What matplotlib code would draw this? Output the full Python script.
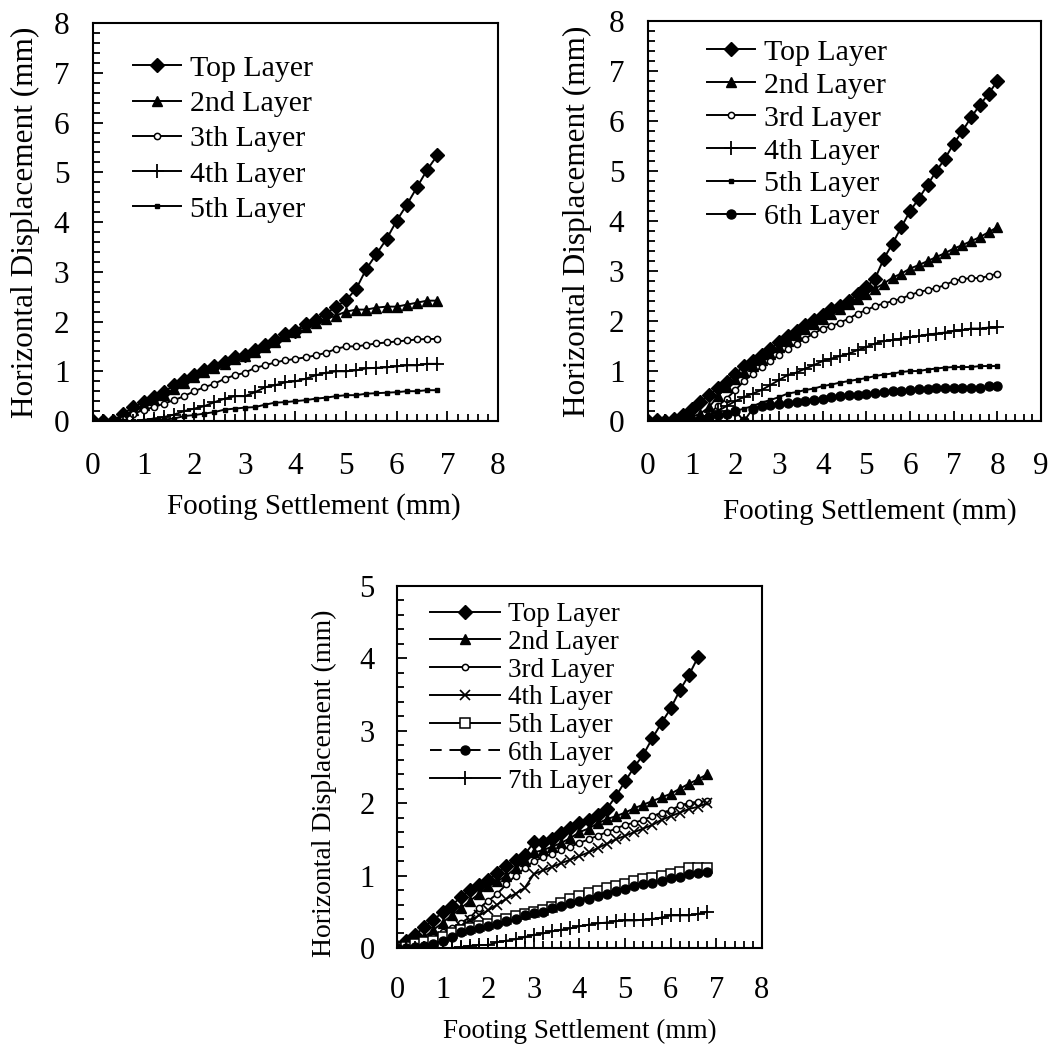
import numpy as np
import matplotlib
matplotlib.use("Agg")
import matplotlib.pyplot as plt
from matplotlib.ticker import MultipleLocator

plt.rcParams['font.family'] = ['Liberation Serif', 'DejaVu Serif']

# ---- panel A (top left): settlement 0..6.8 step 0.2
xa = np.round(np.arange(0, 6.81, 0.2), 1)
a_top = [0, 0, 0, 0.15, 0.28, 0.38, 0.48, 0.58, 0.72, 0.82, 0.92, 1.02, 1.1, 1.19, 1.29,
         1.32, 1.42, 1.52, 1.62, 1.75, 1.82, 1.96, 2.04, 2.16, 2.3, 2.43, 2.66, 3.06, 3.36,
         3.66, 4.03, 4.35, 4.7, 5.05, 5.34]
a_2nd = [0, 0, 0, 0.1, 0.22, 0.32, 0.42, 0.52, 0.65, 0.76, 0.88, 0.98, 1.06, 1.15, 1.25,
         1.3, 1.38, 1.48, 1.58, 1.7, 1.8, 1.9, 1.98, 2.05, 2.12, 2.2, 2.24, 2.24, 2.28, 2.3,
         2.3, 2.34, 2.38, 2.42, 2.42]
a_3rd = [0, 0, 0, 0.05, 0.15, 0.22, 0.28, 0.35, 0.42, 0.5, 0.6, 0.68, 0.75, 0.85, 0.92,
         0.97, 1.07, 1.12, 1.18, 1.22, 1.25, 1.28, 1.32, 1.37, 1.45, 1.5, 1.5, 1.53, 1.56,
         1.58, 1.6, 1.62, 1.64, 1.65, 1.65]
a_4th = [0, 0, 0, 0, 0, 0.02, 0.05, 0.08, 0.13, 0.2, 0.25, 0.3, 0.38, 0.45, 0.5, 0.5,
         0.58, 0.68, 0.72, 0.78, 0.8, 0.85, 0.92, 0.97, 1.0, 1.0, 1.02, 1.06, 1.07, 1.08,
         1.1, 1.12, 1.12, 1.15, 1.15]
a_5th = [0, 0, 0, 0, 0, 0, 0.02, 0.03, 0.05, 0.1, 0.12, 0.15, 0.18, 0.23, 0.25, 0.27,
         0.28, 0.33, 0.37, 0.38, 0.4, 0.42, 0.45, 0.47, 0.5, 0.52, 0.52, 0.55, 0.56, 0.57,
         0.58, 0.6, 0.6, 0.62, 0.62]

# ---- panel B (top right): settlement 0..8 step 0.2
xb = np.round(np.arange(0, 8.01, 0.2), 1)
b_top = [0, 0.03, 0, 0.05, 0.12, 0.25, 0.38, 0.52, 0.66, 0.78, 0.95, 1.1, 1.2, 1.33, 1.45,
         1.58, 1.7, 1.8, 1.93, 2.02, 2.12, 2.25, 2.3, 2.4, 2.55, 2.68, 2.85, 3.25, 3.55,
         3.88, 4.2, 4.45, 4.72, 5.0, 5.25, 5.55, 5.8, 6.08, 6.32, 6.55, 6.8]
b_2nd = [0, 0, 0, 0, 0.03, 0.08, 0.15, 0.28, 0.5, 0.68, 0.85, 0.98, 1.1, 1.22, 1.35, 1.48,
         1.6, 1.72, 1.85, 1.95, 2.05, 2.15, 2.25, 2.35, 2.45, 2.55, 2.65, 2.75, 2.87, 2.95,
         3.05, 3.12, 3.2, 3.28, 3.36, 3.45, 3.52, 3.6, 3.68, 3.78, 3.88]
b_3rd = [0, 0, 0, 0, 0, 0, 0.05, 0.15, 0.3, 0.45, 0.62, 0.8, 0.95, 1.08, 1.2, 1.32, 1.45,
         1.55, 1.65, 1.75, 1.85, 1.9, 1.97, 2.05, 2.15, 2.22, 2.3, 2.35, 2.4, 2.45, 2.52,
         2.58, 2.62, 2.66, 2.72, 2.8, 2.84, 2.86, 2.86, 2.9, 2.95]
b_4th = [0, 0, 0, 0, 0, 0, 0, 0.1, 0.2, 0.3, 0.4, 0.48, 0.55, 0.62, 0.72, 0.82, 0.92, 0.97,
         1.05, 1.12, 1.2, 1.25, 1.3, 1.35, 1.42, 1.48, 1.55, 1.6, 1.62, 1.65, 1.68, 1.7,
         1.73, 1.75, 1.77, 1.8, 1.82, 1.85, 1.85, 1.87, 1.88]
b_5th = [0, 0, 0, 0, 0, 0, 0.02, 0.05, 0.1, 0.15, 0.2, 0.25, 0.3, 0.37, 0.42, 0.48, 0.55,
         0.58, 0.62, 0.65, 0.7, 0.73, 0.77, 0.8, 0.83, 0.86, 0.9, 0.93, 0.95, 0.98, 1.0,
         1.0, 1.03, 1.05, 1.07, 1.08, 1.08, 1.08, 1.1, 1.1, 1.1]
b_6th = [0, 0, 0, 0, 0, 0, 0.03, 0.08, 0.12, 0.15, 0.2, 0.0, 0.25, 0.3, 0.32, 0.35, 0.37,
         0.38, 0.4, 0.42, 0.45, 0.48, 0.5, 0.52, 0.53, 0.55, 0.56, 0.58, 0.6, 0.6, 0.62,
         0.64, 0.64, 0.66, 0.67, 0.67, 0.67, 0.67, 0.67, 0.7, 0.7]

# ---- panel C (bottom): settlement 0..6.8 step 0.2 (top layer stops at 6.6)
xc = np.round(np.arange(0, 6.81, 0.2), 1)
c_top = [0.02, 0.09, 0.18, 0.29, 0.39, 0.49, 0.58, 0.71, 0.8, 0.87, 0.94, 1.03, 1.13,
         1.22, 1.29, 1.46, 1.47, 1.5, 1.59, 1.66, 1.72, 1.77, 1.84, 1.92, 2.1, 2.3, 2.5,
         2.67, 2.9, 3.11, 3.31, 3.56, 3.77, 4.02]
c_2nd = [0, 0.03, 0.08, 0.15, 0.25, 0.35, 0.45, 0.55, 0.65, 0.75, 0.85, 0.92, 1.0, 1.1,
         1.2, 1.32, 1.35, 1.4, 1.45, 1.52, 1.6, 1.65, 1.72, 1.78, 1.82, 1.87, 1.93, 1.98,
         2.03, 2.08, 2.13, 2.2, 2.27, 2.33, 2.4]
c_3rd = [0, 0.02, 0.05, 0.1, 0.15, 0.22, 0.28, 0.35, 0.42, 0.55, 0.65, 0.75, 0.88, 1.0,
         1.1, 1.2, 1.25, 1.3, 1.35, 1.4, 1.45, 1.5, 1.55, 1.6, 1.65, 1.7, 1.73, 1.77, 1.82,
         1.87, 1.9, 1.97, 2.0, 2.02, 2.03]
c_4th = [0, 0, 0.02, 0.05, 0.08, 0.15, 0.22, 0.3, 0.38, 0.45, 0.52, 0.6, 0.68, 0.75, 0.83,
         1.02, 1.07, 1.12, 1.17, 1.22, 1.27, 1.32, 1.38, 1.44, 1.5, 1.55, 1.6, 1.65, 1.7,
         1.77, 1.82, 1.87, 1.92, 1.95, 2.0]
c_5th = [0, 0.02, 0.05, 0.08, 0.1, 0.15, 0.2, 0.25, 0.28, 0.3, 0.33, 0.37, 0.4, 0.44, 0.47,
         0.5, 0.53, 0.57, 0.62, 0.67, 0.72, 0.76, 0.79, 0.83, 0.86, 0.89, 0.92, 0.95, 0.97,
         0.99, 1.02, 1.05, 1.1, 1.1, 1.1]
c_6th = [0, 0, 0.02, 0.03, 0.05, 0.1, 0.15, 0.22, 0.25, 0.28, 0.3, 0.33, 0.37, 0.4, 0.45,
         0.48, 0.5, 0.55, 0.58, 0.62, 0.65, 0.68, 0.72, 0.75, 0.78, 0.82, 0.85, 0.88, 0.9,
         0.93, 0.96, 0.98, 1.02, 1.04, 1.05]
c_7th = [0, 0, 0, 0, 0, 0, 0, 0.01, 0.03, 0.04, 0.04, 0.08, 0.1, 0.12, 0.15, 0.18, 0.2,
         0.23, 0.25, 0.27, 0.3, 0.32, 0.34, 0.35, 0.37, 0.38, 0.38, 0.39, 0.4, 0.42, 0.45,
         0.45, 0.45, 0.47, 0.5]

xlab = 'Footing Settlement (mm)'
ylab = 'Horizontal Displacement (mm)'

diamond = dict(marker='D', ms=7.5, mfc='k', mec='k')
tri = dict(marker='^', ms=7, mfc='k', mec='k')
ocirc = dict(marker='o', ms=4.5, mfc='w', mec='k', mew=1.1)
plus = dict(marker='+', ms=10, mec='k', mew=1.3)
smsq = dict(marker='s', ms=3.2, mfc='k', mec='k')
fcirc = dict(marker='o', ms=6.5, mfc='k', mec='k')
LW = 1.4


def style(ax, xmax, ymax, fs, xpad, ypad):
    ax.set_xlim(0, xmax)
    ax.set_ylim(0, ymax)
    ax.xaxis.set_major_locator(MultipleLocator(1))
    ax.yaxis.set_major_locator(MultipleLocator(1))
    ax.xaxis.set_minor_locator(MultipleLocator(0.2))
    ax.yaxis.set_minor_locator(MultipleLocator(0.2))
    ax.tick_params(which='both', direction='in', top=False, right=False, width=1.3)
    ax.tick_params(which='major', length=7, labelsize=fs)
    ax.tick_params(which='minor', length=5)
    ax.tick_params(axis='x', which='major', pad=xpad)
    ax.tick_params(axis='y', which='major', pad=ypad)
    for s in ax.spines.values():
        s.set_linewidth(1.5)


fig = plt.figure(figsize=(10.58, 10.44), dpi=100)

# panel A
FA = 22.5
ax1 = fig.add_axes([0.0879, 0.5967, 0.3828, 0.3812])
ax1.plot(xa, a_top, 'k-', lw=LW, label='Top Layer', **diamond)
ax1.plot(xa, a_2nd, 'k-', lw=LW, label='2nd Layer', **tri)
ax1.plot(xa, a_3rd, 'k-', lw=LW, label='3th Layer', **ocirc)
ax1.plot(xa, a_4th, 'k-', lw=LW, label='4th Layer', **plus)
ax1.plot(xa, a_5th, 'k-', lw=LW, label='5th Layer', **smsq)
style(ax1, 8, 8, FA, 22, 17)
ax1.set_xlabel(xlab, fontsize=21)
ax1.xaxis.set_label_coords(0.546, -0.18)
ax1.set_ylabel(ylab, fontsize=FA, labelpad=10)
ax1.legend(loc='upper left', bbox_to_anchor=(0.07, 0.95), frameon=False, fontsize=21.5,
           handlelength=1.6, handletextpad=0.3, labelspacing=0.28, borderaxespad=0)

# panel B
ax2 = fig.add_axes([0.6125, 0.5967, 0.3715, 0.3831])
ax2.plot(xb, b_top, 'k-', lw=LW, label='Top Layer', **diamond)
ax2.plot(xb, b_2nd, 'k-', lw=LW, label='2nd Layer', **tri)
ax2.plot(xb, b_3rd, 'k-', lw=LW, label='3rd Layer', **ocirc)
ax2.plot(xb, b_4th, 'k-', lw=LW, label='4th Layer', **plus)
ax2.plot(xb, b_5th, 'k-', lw=LW, label='5th Layer', **smsq)
ax2.plot(xb, b_6th, 'k-', lw=LW, label='6th Layer', **fcirc)
style(ax2, 9, 8, FA, 22, 17)
ax2.set_xlabel(xlab, fontsize=21)
ax2.xaxis.set_label_coords(0.565, -0.192)
ax2.set_ylabel(ylab, fontsize=FA, labelpad=12)
ax2.legend(loc='upper left', bbox_to_anchor=(0.12, 0.985), frameon=False, fontsize=21.5,
           handlelength=1.6, handletextpad=0.3, labelspacing=0.2, borderaxespad=0)

# panel C
FC = 20
ax3 = fig.add_axes([0.3752, 0.0920, 0.3450, 0.3467])
ax3.plot(xc[:len(c_top)], c_top, 'k-', lw=LW, label='Top Layer', **diamond)
ax3.plot(xc, c_2nd, 'k-', lw=LW, label='2nd Layer', **tri)
ax3.plot(xc, c_3rd, 'k-', lw=LW, label='3rd Layer', **ocirc)
ax3.plot(xc, c_4th, 'k-', lw=LW, label='4th Layer', marker='x', ms=7, mec='k', mew=1.2)
ax3.plot(xc, c_5th, 'k-', lw=LW, label='5th Layer', marker='s', ms=7.5, mfc='w', mec='k', mew=1.1)
ax3.plot(xc, c_6th, 'k--', lw=LW, label='6th Layer', dashes=(6, 4), **fcirc)
ax3.plot(xc, c_7th, 'k-', lw=LW, label='7th Layer', **plus)
style(ax3, 8, 5, 22, 20, 16)
ax3.set_xlabel(xlab, fontsize=19.5, labelpad=10)
ax3.set_ylabel(ylab, fontsize=FC)
ax3.yaxis.set_label_coords(-0.165, 0.456)
ax3.legend(loc='upper left', bbox_to_anchor=(0.06, 0.985), frameon=False, fontsize=19.5,
           handlelength=2.6, handletextpad=0.3, labelspacing=0.1, borderaxespad=0)

fig.savefig('out.png', dpi=100)
